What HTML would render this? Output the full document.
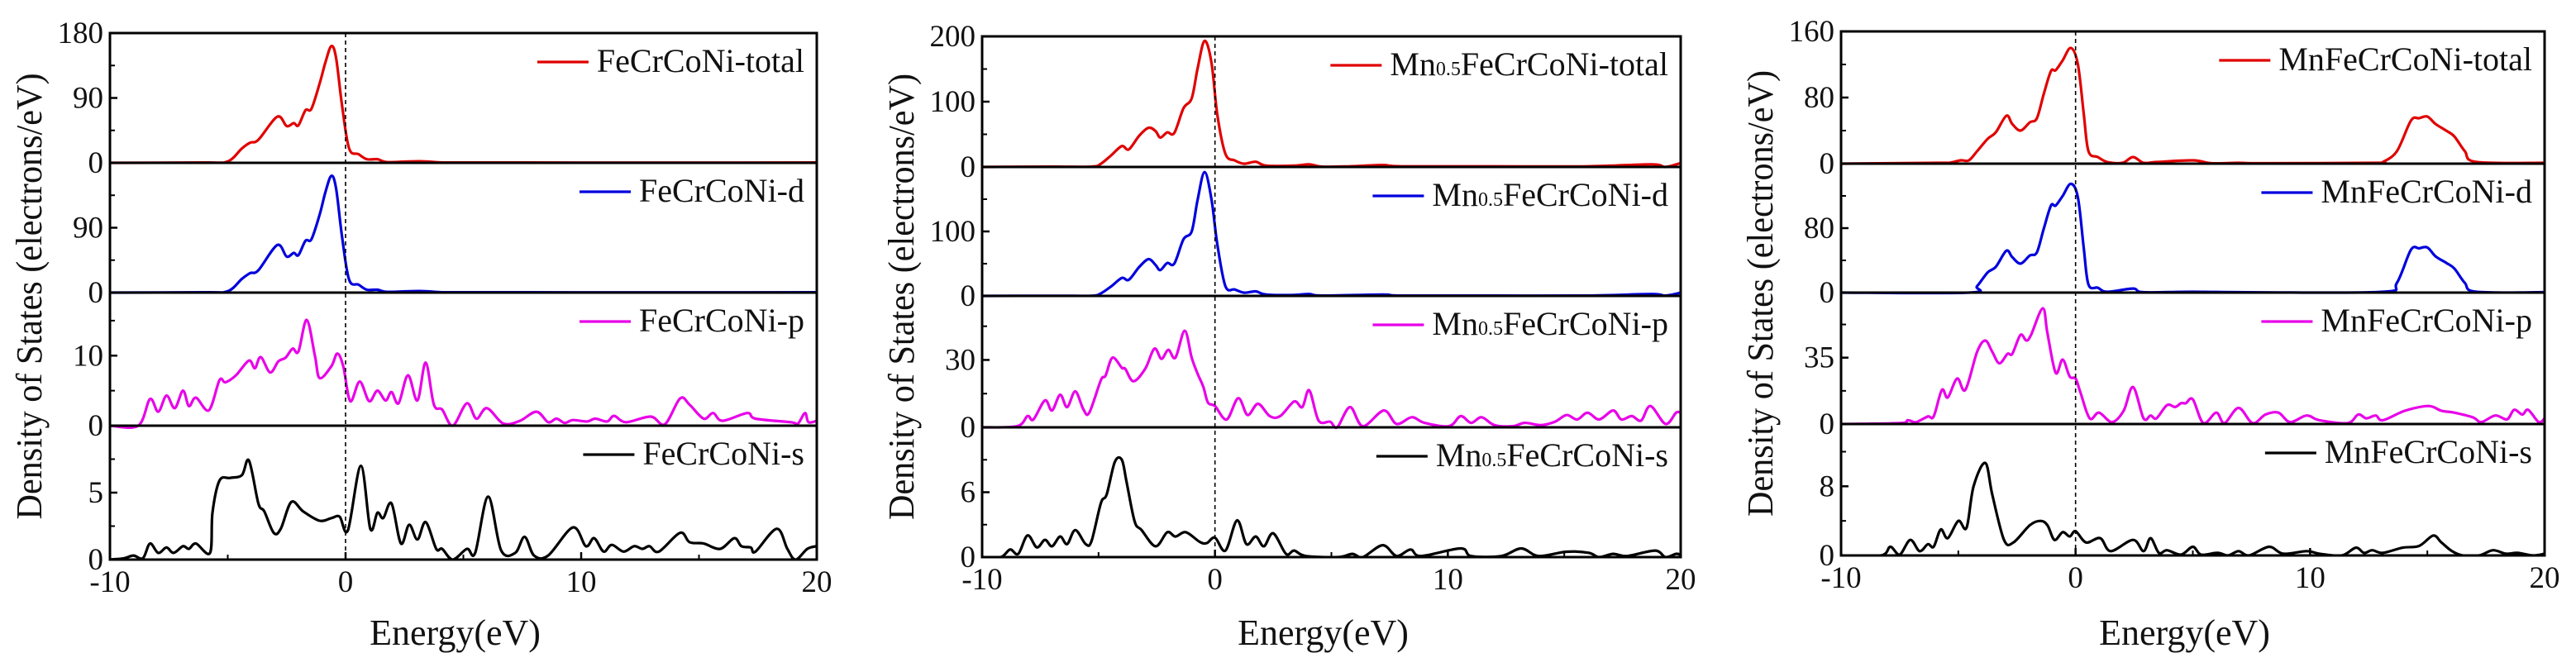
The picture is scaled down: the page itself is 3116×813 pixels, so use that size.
<!DOCTYPE html>
<html><head><meta charset="utf-8">
<style>
html,body{margin:0;padding:0;background:#fff;}
svg{display:block;font-family:"Liberation Serif","Times New Roman",serif;}
</style></head>
<body>
<svg id="chart" width="3116" height="813" viewBox="0 0 3116 813" xmlns="http://www.w3.org/2000/svg"></svg>
<script>
// ---------- Data (energy in eV, DOS values) ----------
// Panel 1: FeCrCoNi
const fTotE=[-10,-6,-5,-4.4,-4.05,-3.7,-2.9,-2.5,-2.2,-2.0,-1.7,-1.45,-1.1,-0.85,-0.6,-0.4,-0.15,0.15,0.55,0.9,1.35,1.75,2.7,3.4,4.1,6,10,15,20];
const fTotV=[0,0.5,2,20,28,32,64,51,55,52,73,75,110,140,162,145,80,20,12,5,5,1,2,2,0.5,0.5,0.3,0.3,0.5];
const fDE=[-10,-6,-5,-4.4,-4.05,-3.7,-2.9,-2.5,-2.2,-2.0,-1.7,-1.45,-1.1,-0.85,-0.6,-0.4,-0.15,0.15,0.55,0.9,1.35,1.75,2.7,3.4,4.1,6,10,15,20];
const fDV=[0,0.5,2,19,27,31,66,50,55,52,72,74,108,140,162,144,78,18,11,4,4,1,2,2,0.5,0.5,0.3,0.3,0.5];
const fPE=[-10,-8.8,-8.3,-7.95,-7.6,-7.25,-6.9,-6.65,-6.35,-5.8,-5.35,-5.1,-4.65,-4.1,-3.85,-3.6,-3.2,-2.85,-2.55,-2.25,-2.0,-1.65,-1.3,-1.1,-0.6,-0.35,-0.1,0.2,0.6,1.0,1.35,1.7,1.95,2.25,2.65,3.05,3.4,3.75,4.1,4.55,5.15,5.55,6.0,6.7,7.4,8.1,8.6,8.95,9.3,9.65,10.25,10.6,11.1,11.4,11.9,12.95,13.55,14.2,14.6,15.2,15.6,16.0,17.05,17.4,18.9,19.2,19.5,19.65,20];
const fPV=[0,0,3.8,2,4.3,2.5,5,2.8,4,2.2,6.5,6.2,7.2,9.3,8.2,9.8,7.6,9.2,9.7,11,10.6,15.1,10,6.8,8.5,10.3,8.5,3.5,6.3,3.5,5,3.6,4.8,3.2,7.2,3.6,9,3,2.3,0,3.2,1,2.5,0.3,0.7,2,0.5,1,0.4,0.8,0.6,1,0.6,1.4,0.5,1.3,0.2,3.9,3,1,1.8,0.7,1.8,1,0.5,0.3,1.8,0.5,0.7];
const fSE=[-10,-9.4,-9.0,-8.6,-8.3,-7.95,-7.6,-7.3,-6.9,-6.65,-6.35,-5.75,-5.65,-5.35,-4.9,-4.4,-4.1,-3.7,-3.45,-3.05,-2.75,-2.3,-1.8,-1.1,-0.6,-0.25,0.1,0.65,1.05,1.35,1.6,1.95,2.35,2.7,3.05,3.4,3.85,4.1,4.55,5.15,5.5,6.05,6.6,7.2,7.6,8.0,8.6,9.65,10.2,10.55,10.95,11.3,11.8,12.25,12.6,12.9,13.3,14.2,14.6,15.2,15.9,16.5,16.8,17.2,17.4,18.3,18.75,19.1,19.6,20];
const fSV=[0,0.1,0.3,0.1,1.2,0.5,0.9,0.5,1,0.8,1.2,0.5,3.5,5.9,6.1,6.3,7.4,4.2,3.6,2.0,2.3,4.3,3.6,2.9,3.1,3.2,2.2,7.0,2.3,3.5,3.1,4.2,1.2,2.6,1.5,2.8,0.8,0.8,0,0.8,0.5,4.7,0.7,0.5,1.7,0.3,0.3,2.4,1.0,1.6,0.6,1.1,0.6,1.0,0.8,1.0,0.6,2.0,1.3,1.2,0.8,1.6,1.0,0.9,0.6,2.3,0.8,0,0.8,1.0];
// Panel 2: Mn0.5FeCrCoNi
const mTotE=[-10,-7,-5.3,-4.9,-4.45,-4.0,-3.7,-3.25,-2.85,-2.55,-2.35,-2.05,-1.75,-1.35,-1.0,-0.75,-0.45,-0.15,0.1,0.45,0.85,1.25,1.75,2.2,3.4,4.05,4.6,5.8,7.2,8,12,16,18.75,19.35,20];
const mTotV=[0,0.5,0.5,5,18,32,27,48,60,55,45,53,52,90,105,150,193,160,80,20,10,5,8,2,2,4,0.5,1,3,1,1,1,4,0,6];
const mDE=[-10,-7,-5.3,-4.9,-4.45,-4.0,-3.7,-3.25,-2.85,-2.55,-2.35,-2.05,-1.75,-1.35,-1.0,-0.75,-0.45,-0.15,0.1,0.45,0.85,1.25,1.75,2.2,3.4,4.05,4.6,7.2,8,12,16,18.75,19.35,20];
const mDV=[0,0.3,0.3,4,15,28,25,45,57,48,40,51,50,88,100,148,192,150,80,15,10,5,7,2,1.5,3,0.5,2,0.5,0.5,0.5,3,0.5,5];
const mPE=[-10,-8.5,-8.05,-7.8,-7.3,-7.0,-6.65,-6.35,-6.0,-5.65,-5.4,-4.9,-4.7,-4.4,-4.0,-3.85,-3.5,-3.0,-2.6,-2.3,-2.0,-1.7,-1.3,-1.0,-0.75,-0.5,-0.3,0,0.5,1.0,1.4,1.85,2.35,2.8,3.4,3.75,4.05,4.45,4.95,5.25,5.8,6.35,7.25,7.8,8.45,9.0,10.05,10.55,11.0,11.45,12.0,12.8,13.3,14.0,14.6,15.1,15.55,16.0,16.5,17.1,17.45,17.9,18.3,18.7,19.35,19.8,20];
const mPV=[0,0.5,5,3.5,12,7.5,14.5,9,16,8,6.5,21,23,31,26.5,26,20.5,26,35,30.5,34.5,31,43,31,24,18,11,9.5,3.5,13,5.5,10.5,5,5,11.5,9,16.5,3,2.5,0,9,0.5,7.5,1.5,4.5,2,0.5,5,2,4.5,1,0.5,2,1,2.5,5.5,3.5,6.5,3.5,7.5,3.5,5,3,9.5,1.5,6.5,6.5];
const mSE=[-10,-9.2,-8.8,-8.45,-8.05,-7.65,-7.3,-7.0,-6.65,-6.35,-6.0,-5.55,-5.3,-4.9,-4.65,-4.3,-4.0,-3.8,-3.45,-3.15,-2.55,-2.05,-1.7,-1.25,-0.65,-0.35,0,0.45,0.95,1.35,1.75,2.1,2.5,3.05,3.4,3.9,5.3,5.9,6.35,7.2,7.8,8.4,8.85,10.55,11.0,12.3,13.15,13.9,15.1,16.05,16.5,17.1,17.7,18.9,19.35,19.8,20];
const mSV=[0,0,0.7,0.3,2,0.9,1.6,1.0,1.9,1.2,2.5,1.2,1.5,5,5.8,8.8,9.0,7,3.3,2.5,1.0,2.3,1.9,2.3,1.4,1.3,1.8,0.6,3.4,1.2,1.9,1.0,2.2,0.3,0.6,0.1,0,0.3,0,1.1,0.1,0.7,0.1,0.8,0.1,0.1,0.8,0.1,0.5,0.4,0,0.3,0.1,0.6,0,0.3,0.2];
// Panel 3: MnFeCrCoNi
const nTotE=[-10,-5.85,-5.4,-4.9,-4.55,-4.2,-3.75,-3.4,-2.95,-2.7,-2.35,-1.95,-1.65,-1.35,-1.05,-0.85,-0.55,-0.2,0.1,0.35,0.55,0.95,1.35,2.0,2.45,2.9,3.45,5.0,5.8,6.95,8.1,12.8,13.1,13.7,14.3,14.65,15.0,15.35,15.8,16.15,16.6,17.1,20];
const nTotV=[0,1,1,4,4,15,30,38,58,48,40,50,55,85,112,113,125,140,120,60,15,8,2,1,8,1,2,4,0.5,1,0.5,1,2,15,52,55,57,48,40,33,15,2,1];
const nDE=[-10,-4.55,-4.2,-3.75,-3.4,-2.95,-2.7,-2.35,-1.95,-1.65,-1.35,-1.05,-0.85,-0.55,-0.2,0.1,0.35,0.55,0.95,1.35,2.45,2.9,5.0,8,13.1,13.7,14.3,14.65,15.0,15.35,15.8,16.15,16.6,17.1,20];
const nDV=[0,0,8,25,32,52,44,36,46,50,80,108,108,120,135,118,55,10,6,1,5,0.5,1,0.3,1,12,53,55,56,45,37,30,12,1,0.5];
const nPE=[-10,-7.5,-7.15,-6.8,-6.3,-6.05,-5.7,-5.45,-5.05,-4.7,-4.2,-3.85,-3.55,-3.25,-2.9,-2.7,-2.35,-2.1,-1.9,-1.4,-1.2,-0.85,-0.55,-0.25,0,0.2,0.6,1.0,1.55,2.05,2.45,2.9,3.2,3.45,3.9,4.25,4.5,4.7,5.0,5.45,6.0,6.35,6.95,7.55,8.1,8.65,9.15,9.85,10.4,11.6,12.05,12.4,12.8,13.1,14.05,15.05,15.6,16.15,16.95,17.3,17.9,18.4,18.7,19.05,19.3,19.75,20];
const nPV=[0,0.5,2,1,4,4,18,14,24,18,38,44,38,32,37,37,47,44,47,61,48,27,34,25,24,17,3,6,1,7,19.5,3,4.5,3,10,9,11,11,13,0.5,6,0.5,8.5,0.5,5,6,1,4.5,2,0.5,5,3,4.5,2,7,9.5,7,6,3.5,1,4.5,2.5,7.5,5,7.5,1,3];
const nSE=[-10,-8.3,-7.9,-7.5,-7.05,-6.65,-6.3,-6.05,-5.75,-5.45,-5.0,-4.65,-4.35,-3.85,-3.55,-3.05,-2.65,-1.95,-1.5,-1.2,-0.9,-0.55,-0.25,0,0.45,1.05,1.5,2.45,2.9,3.2,3.55,3.9,4.5,5.0,5.35,6.05,6.5,6.95,7.4,8.25,8.85,9.85,10.4,11.35,11.95,12.3,12.65,13.1,13.95,14.65,15.25,15.6,16.05,16.5,17.2,17.8,18.35,18.85,19.5,20];
const nSV=[0,0,1,0.1,1.8,0.5,1.3,1,3,2,4,3.2,8,10.7,7,1.8,1.5,3.5,4.0,3.5,1.8,2.7,2.2,2.8,1.5,2.0,0.5,1.8,0.5,2.0,0.3,0.6,0.1,1.0,0.1,0.3,0,0.5,0,1.0,0.2,0.5,0.2,0,0.9,0.3,0.6,0.3,0.9,1.1,2.3,1.5,0.5,0,0,0.6,0.2,0.3,0,0.2];

// Tick labels
const xTicks=[-10,0,10,20];
const xMinor=[-5,5,15];
const p1Ticks=[[0,90,180],[0,90],[0,10],[0,5]];
const p2Ticks=[[0,100,200],[0,100],[0,30],[0,6]];
const p3Ticks=[[0,80,160],[0,80],[0,35],[0,8]];
const p1Max=[180,180,19,10], p2Max=[200,200,58.5,12], p3Max=[160,160,69.3,15.2];
const legendNames=["-total","-d","-p","-s"];
const colors=["#e00000","#0000dd","#e800e8","#000000"];

const NS="http://www.w3.org/2000/svg";
const svg=document.getElementById('chart');
function mk(tag,attrs,parent){const e=document.createElementNS(NS,tag);for(const k in attrs)e.setAttribute(k,attrs[k]);(parent||svg).appendChild(e);return e;}

function smoothPath(pts){
  let d="M"+pts[0][0].toFixed(1)+","+pts[0][1].toFixed(1);
  for(let i=0;i<pts.length-1;i++){
    const p0=pts[Math.max(0,i-1)],p1=pts[i],p2=pts[i+1],p3=pts[Math.min(pts.length-1,i+2)];
    const c1x=p1[0]+(p2[0]-p0[0])/6,c1y=p1[1]+(p2[1]-p0[1])/6;
    const c2x=p2[0]-(p3[0]-p1[0])/6,c2y=p2[1]-(p3[1]-p1[1])/6;
    d+="C"+c1x.toFixed(1)+","+c1y.toFixed(1)+" "+c2x.toFixed(1)+","+c2y.toFixed(1)+" "+p2[0].toFixed(1)+","+p2[1].toFixed(1);
  }
  return d;
}

const panels=[
  {id:"fecrconi",prefix:"FeCrCoNi",sub:false,L:133,R:988,Y:[40,197,354,515,677],ticks:p1Ticks,max:p1Max,
   series:[[fTotE,fTotV],[fDE,fDV],[fPE,fPV],[fSE,fSV]]},
  {id:"mn05fecrconi",prefix:"Mn",sub:true,L:1188,R:2033,Y:[44,202,358,517,674],ticks:p2Ticks,max:p2Max,
   series:[[mTotE,mTotV],[mDE,mDV],[mPE,mPV],[mSE,mSV]]},
  {id:"mnfecrconi",prefix:"MnFeCrCoNi",sub:false,L:2227,R:3078,Y:[38,198,354,513,672],ticks:p3Ticks,max:p3Max,
   series:[[nTotE,nTotV],[nDE,nDV],[nPE,nPV],[nSE,nSV]]}
];

panels.forEach((P,pi)=>{
  const g=mk('g',{});
  
  
  const xs=e=>P.L+(e+10)/30*(P.R-P.L);
  const clip=mk('clipPath',{id:'clip'+pi},g);
  mk('rect',{x:P.L,y:P.Y[0],width:P.R-P.L,height:P.Y[4]-P.Y[0]},clip);
  for(let k=0;k<4;k++){
    const top=P.Y[k],bot=P.Y[k+1];
    const ys=v=>bot-v/P.max[k]*(bot-top);
    // series
    const [E,V]=P.series[k];
    const pts=E.map((e,i)=>[xs(e),ys(V[i])]);
    const path=mk('path',{d:smoothPath(pts),fill:'none',stroke:colors[k],'stroke-width':3.2,'stroke-linejoin':'round','clip-path':'url(#clip'+pi+')'},g);
    
    
    // y ticks
    P.ticks[k].forEach((t,ti)=>{
      const y=ys(t);
      mk('line',{x1:P.L,x2:P.L+9,y1:y,y2:y,stroke:'#000','stroke-width':2.5},g);
      const tx=mk('text',{x:P.L-8,y:y+12,'text-anchor':'end','font-size':37,fill:'#111'},g);
      tx.textContent=t;
      
      
      const step=P.ticks[k][1]-P.ticks[k][0];
      const mv=t+step/2;
      if(mv<P.max[k]){const my=ys(mv);mk('line',{x1:P.L,x2:P.L+6,y1:my,y2:my,stroke:'#000','stroke-width':2},g);}
    });
    // separator
    if(k>0) mk('line',{x1:P.L,x2:P.R,y1:top,y2:top,stroke:'#000','stroke-width':3},g);
    // legend
    const ly=top+47;
    const lg=mk('g',{},g);
    
    
    const t=mk('text',{x:P.R-15,y:ly,'text-anchor':'end','font-size':40,fill:'#111'},lg);
    if(P.sub){
      t.appendChild(document.createTextNode('Mn'));
      const ts=mk('tspan',{'font-size':24},t);ts.textContent='0.5';
      t.appendChild(document.createTextNode('FeCrCoNi'+legendNames[k]));
    } else t.textContent=P.prefix+legendNames[k];
    const w=t.getComputedTextLength();
    const lx2=P.R-15-w-10;
    mk('line',{x1:lx2-62,x2:lx2,y1:ly-12,y2:ly-12,stroke:colors[k],'stroke-width':3.2},lg);
  }
  // frame
  const fr=mk('rect',{x:P.L,y:P.Y[0],width:P.R-P.L,height:P.Y[4]-P.Y[0],fill:'none',stroke:'#000','stroke-width':3},g);
  
  
  // fermi line
  const fl=mk('line',{x1:xs(0),x2:xs(0),y1:P.Y[0],y2:P.Y[4],stroke:'#000','stroke-width':1.6,'stroke-dasharray':'5,4'},g);
  
  
  // x ticks
  xTicks.forEach(v=>{
    const x=xs(v);
    mk('line',{x1:x,x2:x,y1:P.Y[4],y2:P.Y[4]-9,stroke:'#000','stroke-width':2.5},g);
    const tx=mk('text',{x:x,y:P.Y[4]+39,'text-anchor':'middle','font-size':37,fill:'#111'},g);
    tx.textContent=v;
    
    
  });
  xMinor.forEach(v=>{const x=xs(v);mk('line',{x1:x,x2:x,y1:P.Y[4],y2:P.Y[4]-6,stroke:'#000','stroke-width':2},g);});
  // axis titles
  const xt=mk('text',{x:(P.L+P.R)/2-10,y:780,'text-anchor':'middle','font-size':44,fill:'#111'},g);
  xt.textContent='Energy(eV)';
  
  
  const cy=(P.Y[0]+P.Y[4])/2;
  const yt=mk('text',{x:0,y:0,'text-anchor':'middle','font-size':44,fill:'#111',transform:'translate('+(P.L-83)+','+cy+') rotate(-90)',textLength:540,lengthAdjust:'spacingAndGlyphs'},g);
  yt.textContent='Density of States (electrons/eV)';
  
  
});
</script>
</body></html>
